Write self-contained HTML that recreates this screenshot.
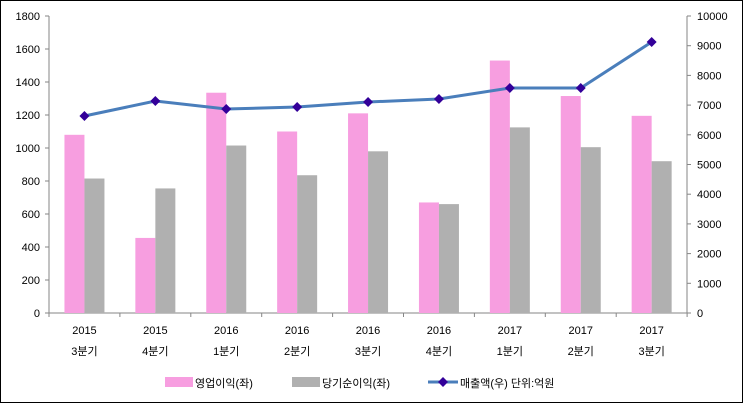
<!DOCTYPE html><html><head><meta charset="utf-8"><style>body{margin:0;background:#fff}svg{display:block}text{font-family:"Liberation Sans","Noto Sans CJK KR",sans-serif;font-size:11px;fill:#000}</style></head><body>
<svg width="743" height="403" viewBox="0 0 743 403">
<rect x="0.5" y="0.5" width="742" height="402" fill="#fff" stroke="#000"/>
<g stroke="#868686" fill="none">
<line x1="49" y1="16" x2="49" y2="313"/><line x1="687" y1="16" x2="687" y2="313"/><line x1="45" y1="313" x2="691" y2="313"/>
</g>
<g id="ticks"></g>
<g id="bars"></g>
<polyline id="ln" fill="none" stroke="#4a7ebb" stroke-width="3" points=""/>
<g id="mk" fill="#330099"></g>
<g id="labels"></g>
<rect x="165" y="377" width="28" height="10" fill="#f79ee0"/><text x="195" y="387">영업이익(좌)</text>
<rect x="292" y="377" width="28" height="10" fill="#b0b0b0"/><text x="322" y="387">당기순이익(좌)</text>
<line x1="428" y1="382" x2="458" y2="382" stroke="#4a7ebb" stroke-width="3"/><path d="M443 377 L448 382 L443 387 L438 382Z" fill="#330099"/><text x="460" y="387">매출액(우)  단위:억원</text>
<script>
var s='http://www.w3.org/2000/svg';function el(p,t,a,tx){var e=document.createElementNS(s,t);for(var k in a)e.setAttribute(k,a[k]);if(tx)e.textContent=tx;document.getElementById(p).appendChild(e);}
var y0=313,pp=297/1800;
for(var i=0;i<=9;i++){var v=i*200,y=y0-v*pp;el('ticks','line',{x1:45,x2:49,y1:y,y2:y,stroke:'#868686'});el('ticks','text',{x:40,y:y+4,'text-anchor':'end'},''+v);
var r=i*1000*297/1800*1.8;}
for(var i=0;i<=10;i++){var y=y0-i*29.7;el('ticks','line',{x1:687,x2:691,y1:y,y2:y,stroke:'#868686'});el('ticks','text',{x:697,y:y+4},''+i*1000);}
for(var i=0;i<=9;i++){var x=49+i*70.9;el('ticks','line',{x1:x,x2:x,y1:313,y2:317,stroke:'#868686'});}
var P=[1080,455,1335,1100,1210,670,1530,1315,1195],G=[815,755,1015,835,980,660,1125,1005,920],L=[116,101,109,107,102,99,88,88,42];
var yr=['2015','2015','2016','2016','2016','2016','2017','2017','2017'],q=['3분기','4분기','1분기','2분기','3분기','4분기','1분기','2분기','3분기'];
var pts=[];
for(var i=0;i<9;i++){var c=49+70.9*(i+.5);
el('bars','rect',{x:c-20,y:y0-P[i]*pp,width:20,height:P[i]*pp,fill:'#f79ee0'});
el('bars','rect',{x:c,y:y0-G[i]*pp,width:20,height:G[i]*pp,fill:'#b0b0b0'});
pts.push(c+','+L[i]);
el('mk','path',{d:'M'+c+' '+(L[i]-5)+' L'+(c+5)+' '+L[i]+' L'+c+' '+(L[i]+5)+' L'+(c-5)+' '+L[i]+'Z'});
el('labels','text',{x:c,y:334,'text-anchor':'middle'},yr[i]);
el('labels','text',{x:c,y:355,'text-anchor':'middle'},q[i]);}
document.getElementById('ln').setAttribute('points',pts.join(' '));
</script>
</svg></body></html>
